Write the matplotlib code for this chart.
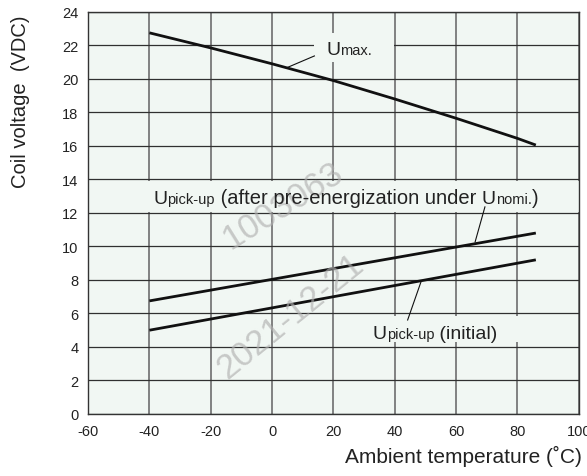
"""Coil voltage vs ambient temperature chart."""
import matplotlib
matplotlib.use("Agg")
from matplotlib import pyplot as plt
from matplotlib.patches import Rectangle
from matplotlib.transforms import offset_copy

plt.rcParams['font.family'] = ['Liberation Sans', 'DejaVu Sans']
plt.rcParams['axes.unicode_minus'] = False

# curves
temp_max = [-40, -20, 0, 20, 40, 60, 80, 86]
u_max = [22.75, 21.85, 20.9, 19.9, 18.8, 17.65, 16.45, 16.05]

temp_pick = [-40, 86]
u_pick_after = [6.75, 10.8]
u_pick_initial = [5.0, 9.2]

x_ticks = [-60, -40, -20, 0, 20, 40, 60, 80, 100]
y_ticks = [0, 2, 4, 6, 8, 10, 12, 14, 16, 18, 20, 22, 24]

BG = '#f1f7f3'
TXT = '#222222'

fig = plt.figure(figsize=(5.87, 4.77), dpi=100)
ax = fig.add_axes([0.150, 0.130, 0.836, 0.843])
ax.set_facecolor(BG)
ax.set_xlim(-60, 100)
ax.set_ylim(0, 24)
ax.set_xticks(x_ticks)
ax.set_yticks(y_ticks)
ax.tick_params(length=0, labelsize=10.5, labelcolor=TXT, pad=7)
ax.grid(True, axis='x', color='#6e6e6e', linewidth=1.2)
ax.grid(True, axis='y', color='#303030', linewidth=0.9)
ax.set_axisbelow(True)
for sp in ax.spines.values():
    sp.set_color('#333333')
    sp.set_linewidth(1.0)

# label backgrounds that hide the grid
ax.add_patch(Rectangle((-60, 12.08), 160, 1.84, facecolor=BG, edgecolor='none', zorder=1.5))
ax.add_patch(Rectangle((13.8, 21.0), 26, 1.75, facecolor=BG, edgecolor='none', zorder=1.5))
ax.add_patch(Rectangle((30, 4.3), 52, 1.55, facecolor=BG, edgecolor='none', zorder=1.5))

for xs, ys in [(temp_max, u_max), (temp_pick, u_pick_after), (temp_pick, u_pick_initial)]:
    ax.plot(xs, ys, color='#111111', linewidth=2.0, zorder=3, solid_capstyle='butt')

# leader lines
ax.plot([4.7, 13.8], [20.66, 21.37], color='#111111', linewidth=0.8, zorder=3)
ax.plot([66.2, 69.4], [10.27, 12.36], color='#111111', linewidth=0.8, zorder=3)
ax.plot([48.5, 44.2], [7.86, 5.61], color='#111111', linewidth=0.8, zorder=3)

renderer = fig.canvas.get_renderer()


def rich_label(x, y, parts):
    """Draw text pieces of mixed size on one baseline."""
    dx = 0
    for s, size in parts:
        tr = offset_copy(ax.transData, fig=fig, x=dx, y=0, units='dots')
        t = ax.text(x, y, s, fontsize=size, color=TXT, ha='left', va='baseline',
                    transform=tr, zorder=5)
        dx += t.get_window_extent(renderer).width


rich_label(17.7, 21.47, [("U", 14), ("max.", 10.5)])
rich_label(-38.8, 12.58, [("U", 14), ("pick-up", 10.5), (" (after pre-energization under ", 14.5),
                          ("U", 14), ("nomi.", 10.5), (")", 14.5)])
rich_label(32.8, 4.52, [("U", 14), ("pick-up", 10.5), (" (initial)", 14)])

# watermark
ax.text(3.4, 12.5, "1003063", fontsize=25, color='#b0b0b0', alpha=0.65, rotation=32,
        ha='center', va='center', zorder=4)
ax.text(6, 5.85, "2021-12-21", fontsize=25, color='#b0b0b0', alpha=0.65, rotation=39,
        ha='center', va='center', zorder=4)

fig.text(0.035, 0.786, "Coil voltage  (VDC)", rotation=90, fontsize=14.5, color=TXT,
         ha='center', va='center')
fig.text(0.991, 0.0294, "Ambient temperature (\u02daC)", fontsize=15, color=TXT,
         ha='right', va='baseline')

fig.savefig("out.png", dpi=100)
